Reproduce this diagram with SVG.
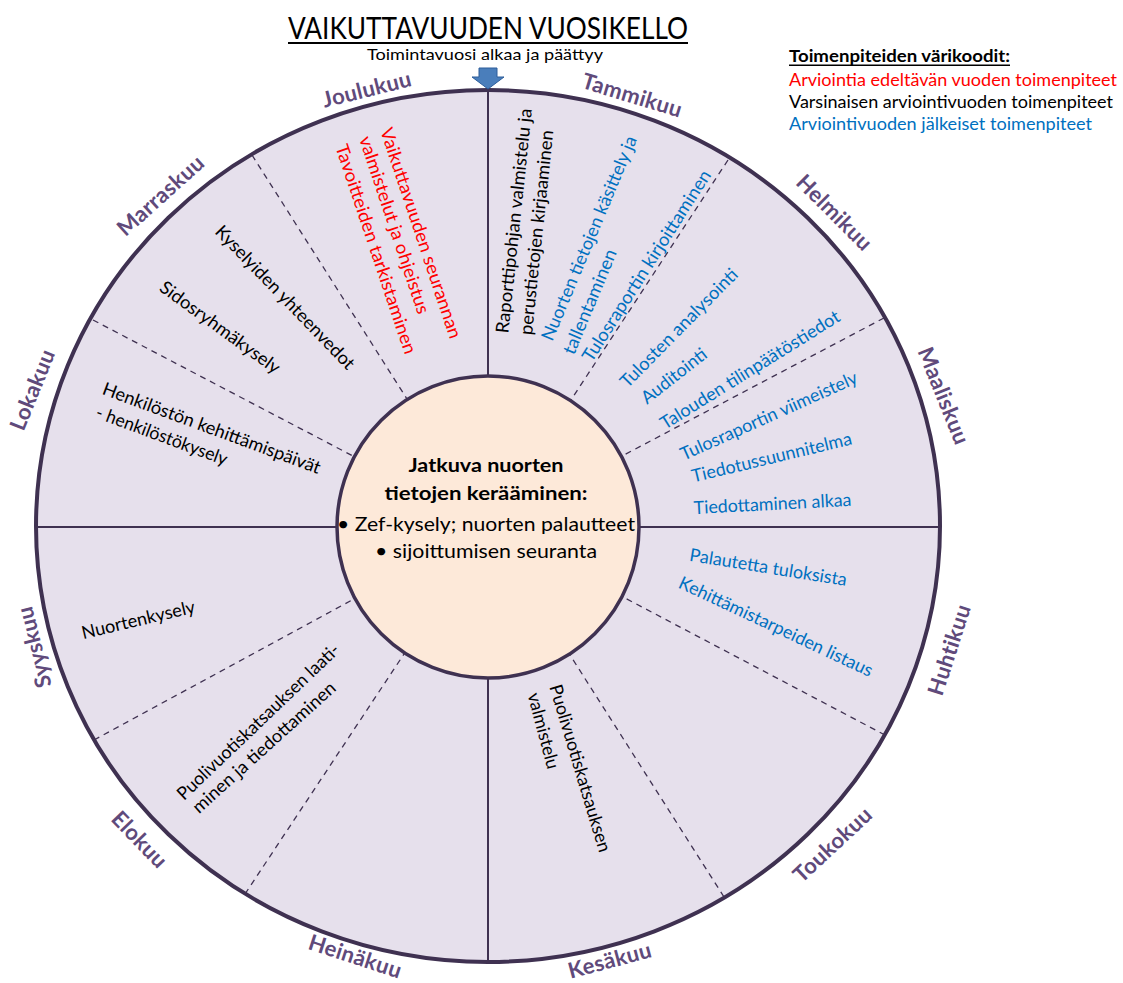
<svg xmlns="http://www.w3.org/2000/svg" width="1123" height="983" viewBox="0 0 1123 983">
<style>
text{font-family:Lato,"Liberation Sans",sans-serif}
.month{font-weight:bold;font-size:22px;fill:#604A7B;text-anchor:middle;letter-spacing:0.3px}
.t{font-size:18px;text-anchor:middle}
.red{fill:#FF0000}.blk{fill:#000}.blu{fill:#0070C0}
.solid{stroke:#3F3151;stroke-width:2;fill:none}
.dash{stroke:#3F3151;stroke-width:1.3;stroke-dasharray:6 5;fill:none}
.leg{font-size:17px}
</style>
<g id="title">
<text x="288" y="38.5" font-size="31" textLength="400" lengthAdjust="spacingAndGlyphs">VAIKUTTAVUUDEN VUOSIKELLO</text>
<rect x="288" y="42" width="400" height="2" fill="#000"/>
<text x="485" y="60" font-size="16" text-anchor="middle" textLength="236" lengthAdjust="spacingAndGlyphs">Toimintavuosi alkaa ja päättyy</text>
</g>
<g id="legend">
<text class="leg" x="789" y="62" font-weight="bold" textLength="221" lengthAdjust="spacingAndGlyphs">Toimenpiteiden värikoodit:</text>
<rect x="789" y="64.5" width="221" height="1.5" fill="#000"/>
<text class="leg red" x="789" y="86" textLength="328" lengthAdjust="spacingAndGlyphs">Arviointia edeltävän vuoden toimenpiteet</text>
<text class="leg blk" x="789" y="108" textLength="324" lengthAdjust="spacingAndGlyphs">Varsinaisen arviointivuoden toimenpiteet</text>
<text class="leg blu" x="789" y="130" textLength="303" lengthAdjust="spacingAndGlyphs">Arviointivuoden jälkeiset toimenpiteet</text>
</g>
<g id="wheel">
<ellipse cx="488" cy="526" rx="452" ry="436" fill="#E6E0EC" stroke="#3F3151" stroke-width="4"/>
</g>
<g id="connectors">
<line class="solid" x1="488" y1="90" x2="488" y2="376"/>
<line class="solid" x1="488" y1="678" x2="488" y2="962"/>
<line class="solid" x1="37" y1="527" x2="337" y2="527"/>
<line class="solid" x1="639" y1="527" x2="940" y2="527"/>
<line class="dash" x1="728" y1="160" x2="571" y2="400"/>
<line class="dash" x1="884" y1="318" x2="622" y2="456"/>
<line class="dash" x1="885" y1="735" x2="623" y2="597"/>
<line class="dash" x1="724" y1="897" x2="570" y2="655"/>
<line class="dash" x1="245" y1="894" x2="404" y2="654"/>
<line class="dash" x1="94" y1="740" x2="354" y2="599"/>
<line class="dash" x1="93" y1="320" x2="353" y2="456"/>
<line class="dash" x1="252" y1="155" x2="407" y2="399"/>
</g>
<g id="arrow">
<path d="M479 68 H497 V77 H504 L488 89 L472 77 H479 Z" fill="#4A7EBB" stroke="#2C5D9A" stroke-width="1"/>
</g>
<g id="center">
<circle cx="488" cy="527" r="151" fill="#FDE9D9" stroke="#3F3151" stroke-width="3.5"/>
<text x="486" y="472" font-size="19" font-weight="bold" text-anchor="middle" textLength="155" lengthAdjust="spacingAndGlyphs">Jatkuva nuorten</text>
<text x="486" y="500" font-size="19" font-weight="bold" text-anchor="middle" textLength="203" lengthAdjust="spacingAndGlyphs">tietojen kerääminen:</text>
<text x="486" y="531" font-size="20" text-anchor="middle" textLength="298" lengthAdjust="spacingAndGlyphs">• Zef-kysely; nuorten palautteet</text>
<text x="486" y="558" font-size="20" text-anchor="middle" textLength="222" lengthAdjust="spacingAndGlyphs">• sijoittumisen seuranta</text>
</g>
<g id="months">
<text class="month" transform="translate(367,90) rotate(-14)" y="7">Joulukuu</text>
<text class="month" transform="translate(632,96) rotate(17)" y="7">Tammikuu</text>
<text class="month" transform="translate(834,213) rotate(45)" y="7">Helmikuu</text>
<text class="month" transform="translate(943,396) rotate(68)" y="7">Maaliskuu</text>
<text class="month" transform="translate(950,650) rotate(-72)" y="7">Huhtikuu</text>
<text class="month" transform="translate(833,845) rotate(-43)" y="7">Toukokuu</text>
<text class="month" transform="translate(610,961) rotate(-15)" y="7">Kesäkuu</text>
<text class="month" transform="translate(355,957) rotate(18)" y="7">Heinäkuu</text>
<text class="month" transform="translate(139,840) rotate(46)" y="7">Elokuu</text>
<text class="month" transform="translate(35,647) rotate(-104)" y="7">Syyskuu</text>
<text class="month" transform="translate(33,390) rotate(-68)" y="7">Lokakuu</text>
<text class="month" transform="translate(161,196) rotate(-42)" y="7">Marraskuu</text>
</g>
<g id="joulukuu">
<text class="t red" transform="translate(420.8,233.2) rotate(71.5)" y="6" textLength="221" lengthAdjust="spacingAndGlyphs">Vaikuttavuuden seurannan</text>
<text class="t red" transform="translate(394.2,225) rotate(71.5)" y="6" textLength="186" lengthAdjust="spacingAndGlyphs">valmistelut ja ohjeistus</text>
<text class="t red" transform="translate(375.8,249.2) rotate(71.5)" y="6" textLength="220" lengthAdjust="spacingAndGlyphs">Tavoitteiden tarkistaminen</text>
</g>
<g id="tammikuu">
<text class="t blk" transform="translate(514.2,220.8) rotate(-84)" y="6" textLength="226" lengthAdjust="spacingAndGlyphs">Raporttipohjan valmistelu ja</text>
<text class="t blk" transform="translate(536.7,232.5) rotate(-84)" y="6" textLength="206" lengthAdjust="spacingAndGlyphs">perustietojen kirjaaminen</text>
<text class="t blu" transform="translate(589.2,238.3) rotate(-67.3)" y="6" textLength="220" lengthAdjust="spacingAndGlyphs">Nuorten tietojen käsittely ja</text>
<text class="t blu" transform="translate(590,301.7) rotate(-67.3)" y="6" textLength="112" lengthAdjust="spacingAndGlyphs">tallentaminen</text>
<text class="t blu" transform="translate(646.7,265.8) rotate(-57.5)" y="6" textLength="223" lengthAdjust="spacingAndGlyphs">Tulosraportin kirjoittaminen</text>
</g>
<g id="helmikuu">
<text class="t blu" transform="translate(679,328) rotate(-45.4)" y="6" textLength="159" lengthAdjust="spacingAndGlyphs">Tulosten analysointi</text>
<text class="t blu" transform="translate(674,376) rotate(-38)" y="6" textLength="78" lengthAdjust="spacingAndGlyphs">Auditointi</text>
<text class="t blu" transform="translate(750,370) rotate(-31.9)" y="6" textLength="208" lengthAdjust="spacingAndGlyphs">Talouden tilinpäätöstiedot</text>
</g>
<g id="maaliskuu">
<text class="t blu" transform="translate(769,416) rotate(-24.1)" y="6" textLength="192" lengthAdjust="spacingAndGlyphs">Tulosraportin viimeistely</text>
<text class="t blu" transform="translate(771.7,457.5) rotate(-13.5)" y="6" textLength="164" lengthAdjust="spacingAndGlyphs">Tiedotussuunnitelma</text>
<text class="t blu" transform="translate(772.5,504) rotate(-3)" y="6" textLength="158" lengthAdjust="spacingAndGlyphs">Tiedottaminen alkaa</text>
</g>
<g id="huhtikuu">
<text class="t blu" transform="translate(768.3,567.5) rotate(9.1)" y="6" textLength="159" lengthAdjust="spacingAndGlyphs">Palautetta tuloksista</text>
<text class="t blu" transform="translate(775.8,626.7) rotate(25.1)" y="6" textLength="212" lengthAdjust="spacingAndGlyphs">Kehittämistarpeiden listaus</text>
</g>
<g id="kesakuu">
<text class="t blk" transform="translate(580,768.3) rotate(73.3)" y="6" textLength="174" lengthAdjust="spacingAndGlyphs">Puolivuotiskatsauksen</text>
<text class="t blk" transform="translate(543.3,730.8) rotate(75)" y="6" textLength="78" lengthAdjust="spacingAndGlyphs">valmistelu</text>
</g>
<g id="elokuu">
<text class="t blk" transform="translate(258.3,721.7) rotate(-43.7)" y="6" textLength="217" lengthAdjust="spacingAndGlyphs">Puolivuotiskatsauksen laati-</text>
<text class="t blk" transform="translate(264,747.5) rotate(-42)" y="6" textLength="186" lengthAdjust="spacingAndGlyphs">minen ja tiedottaminen</text>
</g>
<g id="syyskuu">
<text class="t blk" transform="translate(138.3,620) rotate(-13.3)" y="6" textLength="116" lengthAdjust="spacingAndGlyphs">Nuortenkysely</text>
</g>
<g id="lokakuu">
<text class="t blk" transform="translate(211.7,428.3) rotate(20.3)" y="6" textLength="231" lengthAdjust="spacingAndGlyphs">Henkilöstön kehittämispäivät</text>
<text class="t blk" transform="translate(161.7,435.8) rotate(20.4)" y="6" textLength="139" lengthAdjust="spacingAndGlyphs">- henkilöstökysely</text>
</g>
<g id="marraskuu">
<text class="t blk" transform="translate(285,297.5) rotate(46)" y="6" textLength="192" lengthAdjust="spacingAndGlyphs">Kyselyiden yhteenvedot</text>
<text class="t blk" transform="translate(220,327.5) rotate(36)" y="6" textLength="144" lengthAdjust="spacingAndGlyphs">Sidosryhmäkysely</text>
</g>
</svg>
